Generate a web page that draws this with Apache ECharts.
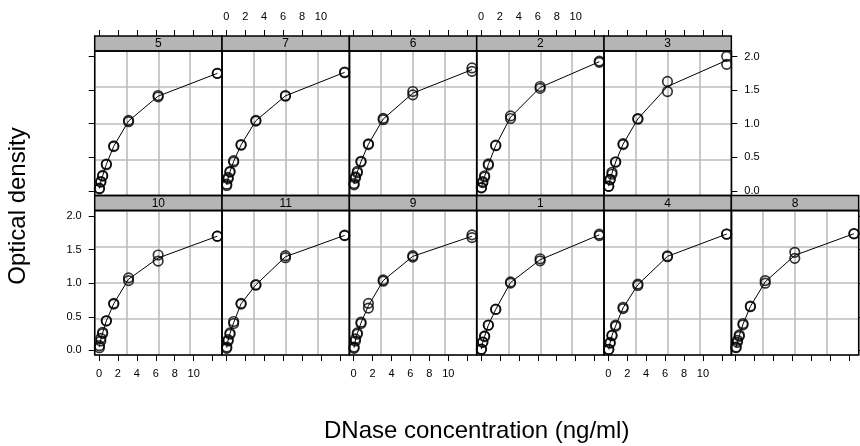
<!DOCTYPE html>
<html><head><meta charset="utf-8">
<script src="https://cdn.jsdelivr.net/npm/echarts@6/dist/echarts.min.js"></script>
<style>html,body{margin:0;padding:0;background:#fff}#c{width:860px;height:446px}</style>
</head><body><div id="c"></div>
<script>
// ---------------- data ----------------
const conc = [0.04882812,0.04882812,0.1953125,0.1953125,0.390625,0.390625,0.78125,0.78125,1.5625,1.5625,3.125,3.125,6.25,6.25,12.5,12.5];
const run10 = [0.040,0.070,0.140,0.180,0.250,0.270,0.440,0.440,0.690,0.700,1.040,1.080,1.330,1.420,1.700,1.700];
const run11 = [0.030,0.050,0.140,0.160,0.240,0.260,0.400,0.430,0.690,0.700,0.970,0.980,1.380,1.410,1.710,1.715];
const run9  = [0.030,0.050,0.140,0.170,0.240,0.260,0.400,0.420,0.630,0.700,1.030,1.050,1.390,1.410,1.680,1.720];
const run1  = [0.017,0.018,0.121,0.124,0.206,0.215,0.377,0.374,0.614,0.609,1.019,1.001,1.334,1.364,1.730,1.710];
const run4  = [0.011,0.016,0.118,0.108,0.226,0.219,0.377,0.357,0.642,0.622,0.987,0.967,1.406,1.394,1.733,1.730];
const run8  = [0.040,0.050,0.120,0.150,0.210,0.230,0.380,0.400,0.650,0.660,1.000,1.040,1.370,1.460,1.735,1.740];
const run5  = [0.030,0.040,0.130,0.140,0.220,0.230,0.390,0.400,0.660,0.670,1.030,1.050,1.400,1.420,1.750,1.750];
const run7  = [0.080,0.100,0.180,0.200,0.280,0.290,0.430,0.450,0.680,0.690,1.040,1.050,1.410,1.420,1.760,1.770];
const run6  = [0.090,0.110,0.190,0.210,0.270,0.290,0.430,0.440,0.690,0.700,1.060,1.080,1.430,1.480,1.780,1.830];
const run2  = [0.045,0.050,0.137,0.123,0.225,0.207,0.401,0.383,0.672,0.681,1.116,1.078,1.554,1.526,1.932,1.914];
const run3  = [0.070,0.068,0.173,0.165,0.277,0.248,0.434,0.426,0.703,0.689,1.067,1.077,1.629,1.479,2.003,1.884];

// panel order: bottom row left->right, then top row left->right
const panelRuns = ['10','11','9','1','4','8','5','7','6','2','3'];
const panelData = [run10, run11, run9, run1, run4, run8, run5, run7, run6, run2, run3];

const xTicks = [0,2,4,6,8,10,12];
const xTickLabels = [0,2,4,6,8,10];
const yTicks = [0,0.5,1,1.5,2];
const xTitle = 'DNase concentration (ng/ml)';
const yTitle = 'Optical density';

// ---------------- layout ----------------
const FONT = '"Liberation Sans", Arial, Helvetica, sans-serif';
const L0 = 94.7, CW = 127.33, STRIP = 15, PH = 144.5;
const rowGeom = [
  {stripTop: 195.5, panelTop: 210.5},  // bottom row
  {stripTop: 36,    panelTop: 51}      // top row
];
const GRID_COLOR = '#bcbcbc';

// axis limits (4% extension as lattice does)
const allD = panelData.flat();
const cMin = Math.min(...conc), cMax = Math.max(...conc);
const dMin = Math.min(...allD), dMax = Math.max(...allD);
const xMin = cMin - 0.04*(cMax-cMin), xMax = cMax + 0.04*(cMax-cMin);
const yMin = dMin - 0.04*(dMax-dMin), yMax = dMax + 0.04*(dMax-dMin);

const grids = [], xAxes = [], yAxes = [], series = [], graphics = [];

panelRuns.forEach((run, i) => {
  const row = i < 6 ? 0 : 1;
  const col = i < 6 ? i : i - 6;
  const nCols = row === 0 ? 6 : 5;
  const g = rowGeom[row];
  const left = L0 + col*CW;
  grids.push({left: left, top: g.panelTop, width: CW, height: PH, show: false});

  // main x axis
  const xLabelShow = row === 0 ? (col % 2 === 0) : (col % 2 === 1);
  xAxes.push({
    gridIndex: i, type: 'value', min: xMin, max: xMax,
    position: row === 0 ? 'bottom' : 'top',
    offset: row === 0 ? 0 : STRIP,
    axisLine: {show: false, onZero: false},
    axisTick: {show: true, inside: false, length: 6, customValues: xTicks, lineStyle: {color: '#000', width: 1}},
    axisLabel: {show: xLabelShow, customValues: xTickLabels, margin: row === 0 ? 13 : 14,
      color: '#000', fontSize: 11, fontFamily: FONT},
    splitLine: {show: false}
  });
  // grid-line helper x axis (3 equally spaced lines)
  xAxes.push({
    gridIndex: i, type: 'value', min: 0, max: 4, interval: 1,
    position: row === 0 ? 'top' : 'bottom',
    axisLine: {show: false, onZero: false}, axisTick: {show: false}, axisLabel: {show: false},
    splitLine: {show: true, lineStyle: {color: GRID_COLOR, width: 1.6}}
  });

  // main y axis
  const isFirst = col === 0, isLast = col === nCols - 1;
  const yTickShow = isFirst || isLast;
  const yPos = isFirst ? 'left' : 'right';
  const yLabelShow = (row === 0 && isFirst) || (row === 1 && isLast);
  yAxes.push({
    gridIndex: i, type: 'value', min: yMin, max: yMax,
    position: yPos,
    axisLine: {show: false, onZero: false},
    axisTick: {show: yTickShow, inside: false, length: 6, customValues: yTicks, lineStyle: {color: '#000', width: 1}},
    axisLabel: {show: yLabelShow, customValues: yTicks, margin: 13, color: '#000', fontSize: 11, fontFamily: FONT,
      formatter: v => v.toFixed(1)},
    splitLine: {show: false}
  });
  yAxes.push({
    gridIndex: i, type: 'value', min: 0, max: 4, interval: 1,
    position: isFirst ? 'right' : 'left',
    axisLine: {show: false, onZero: false}, axisTick: {show: false}, axisLabel: {show: false},
    splitLine: {show: true, lineStyle: {color: GRID_COLOR, width: 1.6}}
  });

  const d = panelData[i];
  const pts = conc.map((c, k) => [c, d[k]]);
  // averages at each concentration for the line
  const uniq = [...new Set(conc)];
  const avg = uniq.map(c => {
    const v = d.filter((_, k) => conc[k] === c);
    return [c, v.reduce((a, b) => a + b, 0) / v.length];
  });
  series.push({
    type: 'line', xAxisIndex: 2*i, yAxisIndex: 2*i, data: avg,
    showSymbol: false, symbol: 'none', silent: true, z: 3,
    lineStyle: {color: '#000', width: 1}
  });
  series.push({
    type: 'scatter', xAxisIndex: 2*i, yAxisIndex: 2*i, data: pts,
    symbol: 'circle', symbolSize: 9.5, silent: true, z: 4,
    itemStyle: {color: 'rgba(0,0,0,0)', borderColor: '#000', borderWidth: 1.7}
  });

  // strip
  graphics.push({
    type: 'rect', z: 50, silent: true,
    shape: {x: left, y: g.stripTop, width: CW, height: STRIP},
    style: {fill: '#b5b5b5', stroke: '#000', lineWidth: 1.5}
  });
  graphics.push({
    type: 'text', z: 51, silent: true,
    x: left + CW/2, y: g.stripTop + STRIP/2 + 0.5,
    style: {text: run, fill: '#000', font: '12px ' + FONT, align: 'center', verticalAlign: 'middle'}
  });
  // panel border
  graphics.push({
    type: 'rect', z: 50, silent: true,
    shape: {x: left, y: g.panelTop, width: CW, height: PH},
    style: {fill: 'none', stroke: '#000', lineWidth: 1.5}
  });
});

// axis titles
graphics.push({
  type: 'text', z: 60, silent: true,
  x: 476.7, y: 431,
  style: {text: xTitle, fill: '#000', font: '24px ' + FONT, align: 'center', verticalAlign: 'middle'}
});
graphics.push({
  type: 'text', z: 60, silent: true,
  x: 18, y: 206, rotation: Math.PI/2,
  style: {text: yTitle, fill: '#000', font: '24px ' + FONT, align: 'center', verticalAlign: 'middle'}
});

const chart = echarts.init(document.getElementById('c'), null, {renderer: 'canvas'});
chart.setOption({
  animation: false,
  backgroundColor: '#fff',
  grid: grids,
  xAxis: xAxes,
  yAxis: yAxes,
  series: series,
  graphic: graphics
});
</script>
</body></html>
